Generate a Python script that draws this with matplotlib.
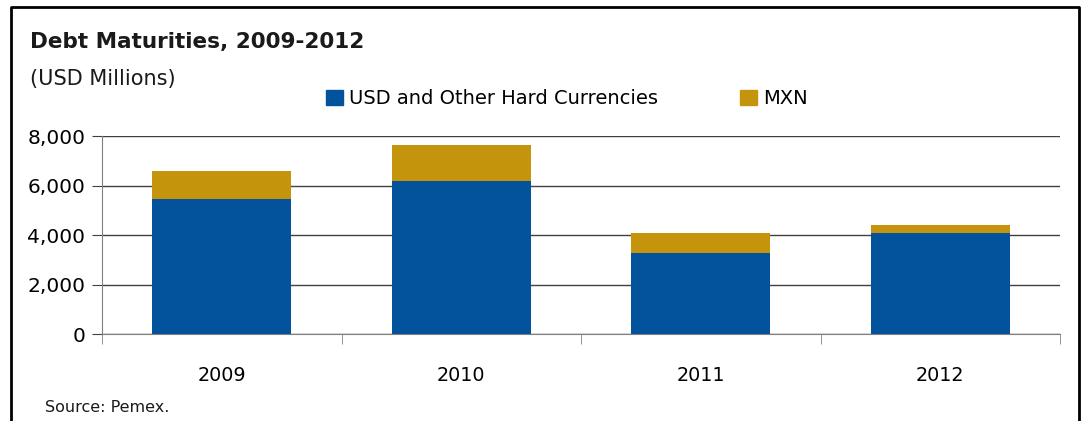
import matplotlib.pyplot as plt
from matplotlib.patches import Patch
from matplotlib.lines import Line2D

# Debt maturities (USD millions)
years = ['2009', '2010', '2011', '2012']
usd_hard = [5470, 6190, 3280, 4090]
mxn = [1130, 1460, 810, 330]

blue = '#03539C'
gold = '#C4940C'

plt.rcParams['font.family'] = ['DejaVu Sans']

fig = plt.figure(figsize=(10.86, 4.21), dpi=100)
ax = fig.add_axes([102 / 1086, 1 - 334.3 / 421, (1060 - 102) / 1086, 198 / 421])

x = list(range(len(years)))
ax.bar(x, usd_hard, width=0.58, color=blue, zorder=3)
ax.bar(x, mxn, width=0.58, bottom=usd_hard, color=gold, zorder=3)

ax.set_xlim(-0.5, 3.5)
ax.set_ylim(0, 8000)
ax.set_yticks([0, 2000, 4000, 6000, 8000])
ax.set_yticklabels([f'{v:,}' for v in [0, 2000, 4000, 6000, 8000]], fontsize=14.5)
ax.set_xticks(x)
ax.set_xticklabels(years, fontsize=13.8)
ax.set_xticks([-0.5, 0.5, 1.5, 2.5, 3.5], minor=True)
ax.tick_params(axis='x', which='major', length=0, pad=23)
ax.tick_params(axis='x', which='minor', length=7, color='#808080', direction='out')
ax.tick_params(axis='y', length=7, color='#404040', pad=5)

ax.grid(axis='y', color='#404040', linewidth=1, zorder=0)
for s in ['top', 'right']:
    ax.spines[s].set_visible(False)
ax.spines['left'].set_color('#808080')
ax.spines['bottom'].set_color('#808080')

# outer frame (open at the bottom)
fx = [11 / 1086, 11 / 1086, 1079 / 1086, 1079 / 1086]
fy = [-0.05, 1 - 7 / 421, 1 - 7 / 421, -0.05]
fig.add_artist(Line2D(fx, fy, color='black', linewidth=2, transform=fig.transFigure))

fig.text(30 / 1086, 1 - 48 / 421, 'Debt Maturities, 2009-2012', fontsize=15.5,
         fontweight='bold', va='baseline', ha='left', color='#1a1a1a')
fig.text(30 / 1086, 1 - 85 / 421, '(USD Millions)', fontsize=15,
         va='baseline', ha='left', color='#1a1a1a')
fig.text(45 / 1086, 1 - 412 / 421, 'Source: Pemex.', fontsize=11.5,
         va='baseline', ha='left', color='#1a1a1a')

handles = [Patch(color=blue, label='USD and Other Hard Currencies'),
           Patch(color=gold, label='MXN')]
fig.legend(handles=handles, loc='center left', bbox_to_anchor=(326 / 1086, 1 - 98.5 / 421),
           ncol=2, frameon=False, fontsize=14, handlelength=0.85, handleheight=0.85,
           handletextpad=0.35, columnspacing=4.2, borderpad=0, borderaxespad=0)

fig.savefig('out.png', dpi=100)
